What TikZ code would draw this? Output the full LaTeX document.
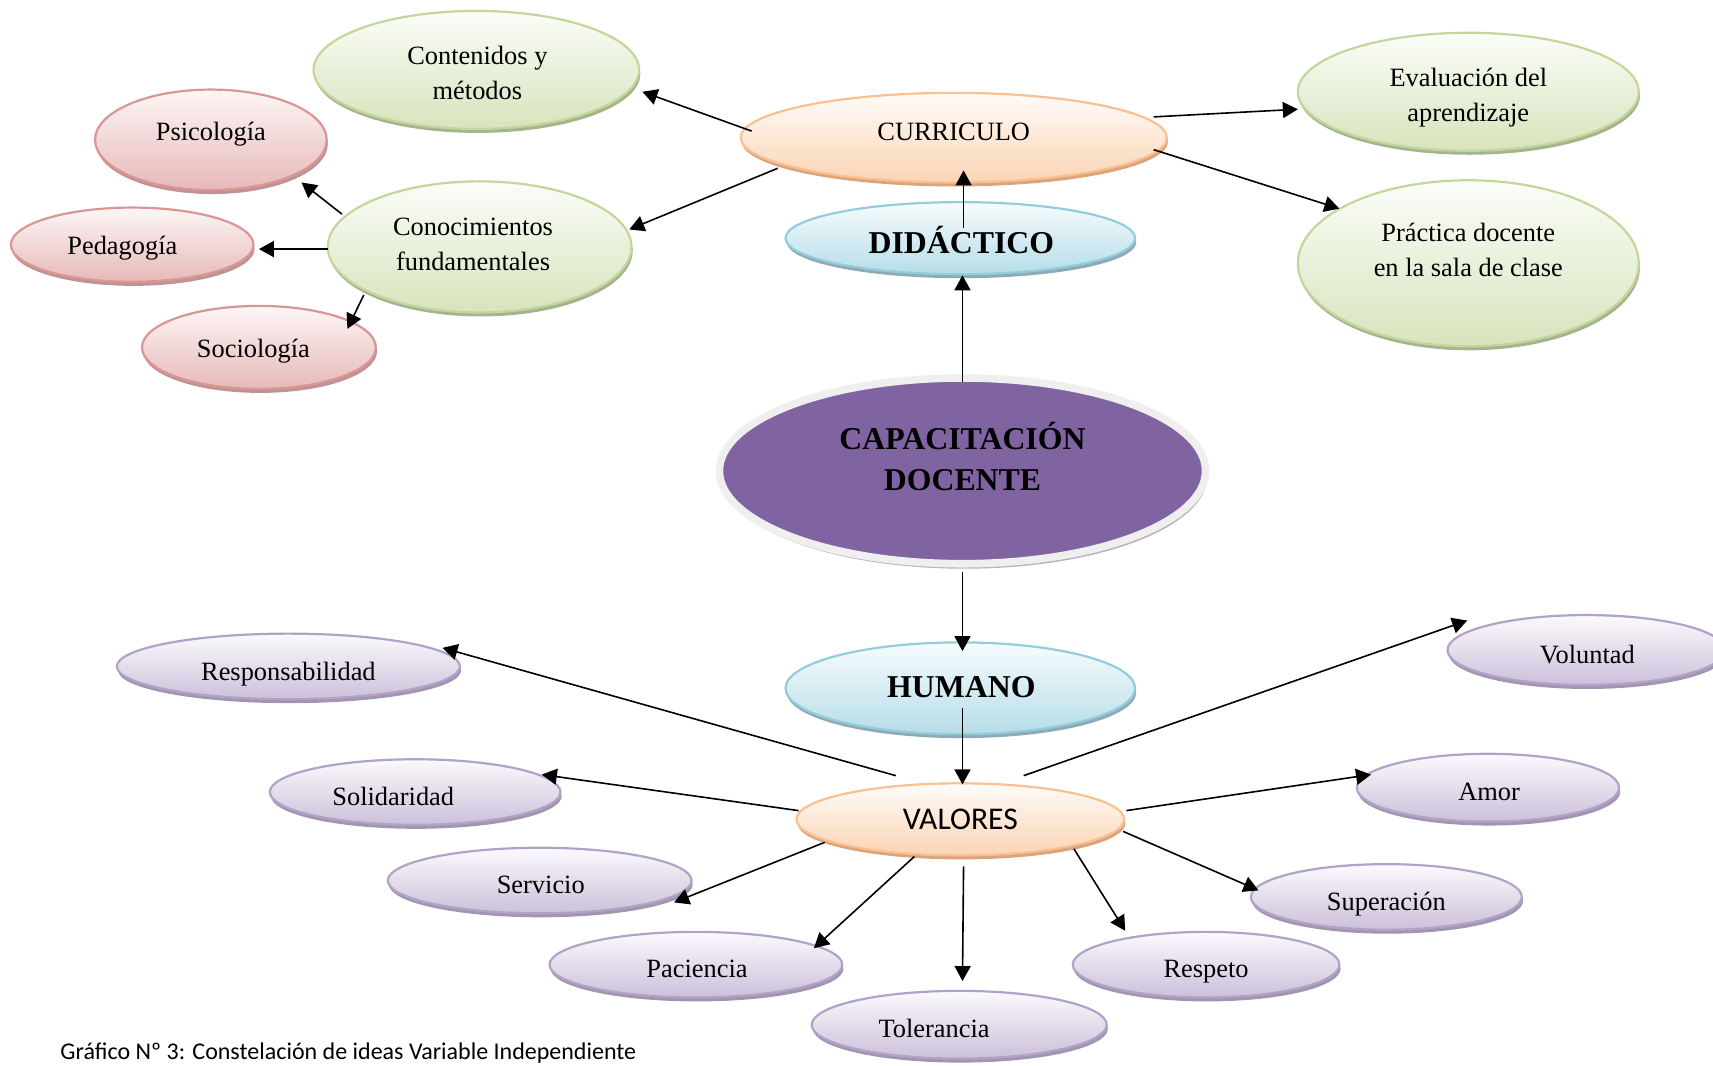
\documentclass[tikz,border=0pt]{standalone}
\usepackage{fontspec}
\setmainfont{Liberation Serif}
\newfontfamily\calib{Carlito}
\usetikzlibrary{shapes.geometric,arrows.meta,shadows}
\definecolor{gB}{HTML}{C3D69B}\definecolor{gT}{HTML}{FBFDF8}\definecolor{gF}{HTML}{D7E4BD}\definecolor{gS}{HTML}{A5B48E}
\definecolor{pB}{HTML}{D99694}\definecolor{pT}{HTML}{FDF6F6}\definecolor{pF}{HTML}{E6B9B8}\definecolor{pS}{HTML}{BE9393}
\definecolor{oB}{HTML}{FAC090}\definecolor{oT}{HTML}{FFFCF9}\definecolor{oF}{HTML}{FBD4B4}\definecolor{oS}{HTML}{D9A47E}
\definecolor{bB}{HTML}{92CDDC}\definecolor{bT}{HTML}{F7FCFD}\definecolor{bF}{HTML}{B6DDE8}\definecolor{bS}{HTML}{8FAAB4}
\definecolor{lB}{HTML}{B3A2C7}\definecolor{lT}{HTML}{FBFAFD}\definecolor{lF}{HTML}{CCC0DA}\definecolor{lS}{HTML}{A195B0}
\definecolor{purp}{HTML}{8064A2}\definecolor{ring}{HTML}{EFEFEF}\definecolor{capS}{HTML}{B8B0C2}
\newcommand\myu{0.54625pt}
\tikzset{
  bub/.style 2 args={ellipse, inner sep=0pt, align=center,
    minimum width={2*#1*\myu}, minimum height={2*#2*\myu}, line width=1.1pt,
    font=\fontsize{13.2}{17.5}\selectfont},
  grn/.style={draw=gB, top color=gT, bottom color=gF,
    drop shadow={shadow xshift=0.6pt, shadow yshift=-2pt, fill=gS, opacity=1}},
  pnk/.style={draw=pB, top color=pT, bottom color=pF,
    drop shadow={shadow xshift=0.6pt, shadow yshift=-2pt, fill=pS, opacity=1}},
  org/.style={draw=oB, top color=oT, bottom color=oF,
    drop shadow={shadow xshift=0.6pt, shadow yshift=-2pt, fill=oS, opacity=1}},
  blu/.style={draw=bB, top color=bT, bottom color=bF,
    drop shadow={shadow xshift=0.6pt, shadow yshift=-2pt, fill=bS, opacity=1}},
  lav/.style={draw=lB, top color=lT, bottom color=lF,
    drop shadow={shadow xshift=0.6pt, shadow yshift=-2pt, fill=lS, opacity=1}},
  bold/.style={font=\bfseries\fontsize{15.9}{20.8}\selectfont},
  lab/.style={inner sep=0pt, align=center, font=\fontsize{13.2}{17.5}\selectfont},
  T/.style n args={4}{label={[name=#1, lab, xshift={#2*\myu}, yshift={#3*\myu}]center:{#4}}},
  TB/.style n args={4}{label={[name=#1, lab, font=\bfseries\fontsize{15.9}{20.8}\selectfont, xshift={#2*\myu}, yshift={#3*\myu}]center:{#4}}},
  arr/.style={-{Triangle[length=7.5pt,width=8pt]}, line width=0.8pt, black},
}
\begin{document}
\begin{tikzpicture}[x=0.54625pt, y=-0.54625pt]
\useasboundingbox (0,0) rectangle (1568,975);
\clip (0,0) rectangle (1568,975);
% top
\node[bub={149}{54}, grn, T={contT}{1}{-3}{Contenidos y\\métodos}] (cont) at (436,64) {};
\node[bub={106}{46}, pnk, T={psiT}{0}{5}{Psicología}] (psi) at (193,128) {};
\node[bub={111}{34}, pnk, T={pedT}{-9}{-3}{Pedagogía}] (ped) at (121,224) {};
\node[bub={107}{38}, pnk, T={socT}{-5}{-3}{Sociología}] (soc) at (237,318) {};
\node[bub={139}{60}, grn, T={conT}{-6}{2}{Conocimientos\\fundamentales}] (con) at (439,226) {};
\node[bub={195}{41}, org, T={curT}{0}{5}{CURRICULO}] (cur) at (873,126) {};
\node[bub={160}{33}, blu, TB={didT}{1}{-2}{DIDÁCTICO}] (did) at (879,218) {};
\node[bub={156}{54}, grn, T={evaT}{0}{-5}{Evaluación del\\aprendizaje}] (eva) at (1344,84) {};
\node[bub={156}{76}, grn, T={praT}{0}{12}{Práctica docente\\en la sala de clase}] (pra) at (1344,241) {};
% center
\node[bub={222.5}{85}, fill=purp, draw=ring, line width=3.8pt,
  drop shadow={shadow xshift=1pt, shadow yshift=-2.5pt, fill=capS, opacity=1},
  TB={capT}{0}{13}{CAPACITACIÓN\\DOCENTE}] (cap) at (881,431) {};
\node[bub={160}{42}, blu, TB={humT}{1}{1}{HUMANO}] (hum) at (879,630) {};
\node[bub={150}{33}, org, font=\calib\fontsize{15.8}{18}\selectfont] (val) at (879,750) {VALORES};
% bottom
\node[bub={157}{30}, lav, T={resT}{0}{-7}{Responsabilidad}] (res) at (264,610) {};
\node[bub={133}{30}, lav, T={solT}{-20}{-4}{Solidaridad}] (sol) at (380,725) {};
\node[bub={139}{30}, lav, T={serT}{1}{-4}{Servicio}] (ser) at (494,806) {};
\node[bub={134}{30}, lav, T={pacT}{1}{-4}{Paciencia}] (pac) at (637,883) {};
\node[bub={135}{31}, lav, T={tolT}{-23}{-3}{Tolerancia}] (tol) at (878,938) {};
\node[bub={122}{30}, lav, T={respT}{0}{-6}{Respeto}] (resp) at (1104,883) {};
\node[bub={124}{30}, lav, T={supT}{0}{-7}{Superación}] (sup) at (1269,821) {};
\node[bub={120}{31}, lav, T={amoT}{1}{-4}{Amor}] (amo) at (1362,721) {};
\node[bub={127}{32}, lav, T={volT}{1}{-4}{Voluntad}] (vol) at (1452,595) {};
% caption
\node[anchor=west, inner sep=0pt, font=\calib\fontsize{12}{14}\selectfont] (capt) at (55,964) {Gráfico Nº 3: Constelación de ideas Variable Independiente};
% arrows
\draw[arr] ([shift={(-185,-6)}]cur.center) -- ([shift={(152,20)}]cont.center);
\draw[arr] ([shift={(-161,28)}]cur.center) -- ([shift={(137,-16)}]con.center);
\draw[arr] ([shift={(-126,-30)}]con.center) -- ([shift={(83,39)}]psi.center);
\draw[arr] ([shift={(-139,2)}]con.center) -- ([shift={(116,4)}]ped.center);
\draw[arr] ([shift={(-106,44)}]con.center) -- ([shift={(81,-17)}]soc.center);
\draw[arr] ([shift={(183,-19)}]cur.center) -- ([shift={(-156,16)}]eva.center);
\draw[arr] ([shift={(183,11)}]cur.center) -- ([shift={(-118,-50)}]pra.center);
\draw[arr] ([shift={(3,-9)}]did.center) -- ([shift={(9,30)}]cur.center);
\draw[arr] ([shift={(0,-81)}]cap.center) -- ([shift={(2,34)}]did.center);
\draw[arr] ([shift={(0,93)}]cap.center) -- ([shift={(2,-34)}]hum.center);
\draw[arr] ([shift={(2,18)}]hum.center) -- ([shift={(2,-32)}]val.center);
\draw[arr] ([shift={(-59,-40)}]val.center) -- ([shift={(141,-17)}]res.center);
\draw[arr] ([shift={(-148,-8)}]val.center) -- ([shift={(116,-16)}]sol.center);
\draw[arr] ([shift={(-124,21)}]val.center) -- ([shift={(123,20)}]ser.center);
\draw[arr] ([shift={(-42,34)}]val.center) -- ([shift={(108,-15)}]pac.center);
\draw[arr] ([shift={(3,43)}]val.center) -- ([shift={(3,-40)}]tol.center);
\draw[arr] ([shift={(104,27)}]val.center) -- ([shift={(-74,-31)}]resp.center);
\draw[arr] ([shift={(149,11)}]val.center) -- ([shift={(-117,-6)}]sup.center);
\draw[arr] ([shift={(152,-8)}]val.center) -- ([shift={(-107,-12)}]amo.center);
\draw[arr] ([shift={(58,-40)}]val.center) -- ([shift={(-109,-27)}]vol.center);
\end{tikzpicture}
\end{document}
